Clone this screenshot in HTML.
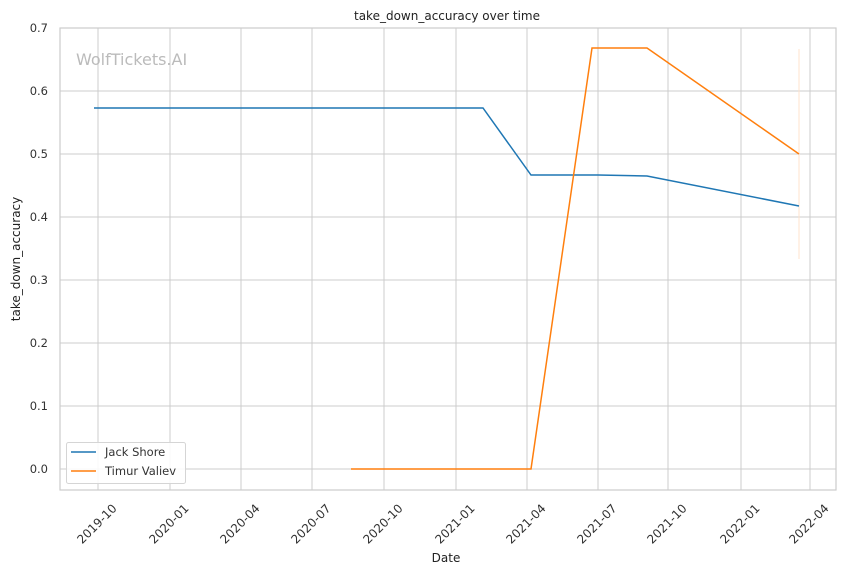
<!DOCTYPE html>
<html><head><meta charset="utf-8"><style>body{margin:0;background:#fff}svg{display:block;font-family:"DejaVu Sans","Liberation Sans",sans-serif}</style></head><body>
<svg width="844" height="575" viewBox="0 0 844 575">
<rect width="844" height="575" fill="#fff"/>
<g stroke="#cccccc" stroke-width="1">
<line x1="98" y1="28" x2="98" y2="490"/><line x1="170" y1="28" x2="170" y2="490"/><line x1="241" y1="28" x2="241" y2="490"/><line x1="312" y1="28" x2="312" y2="490"/><line x1="384" y1="28" x2="384" y2="490"/><line x1="456" y1="28" x2="456" y2="490"/><line x1="527" y1="28" x2="527" y2="490"/><line x1="598" y1="28" x2="598" y2="490"/><line x1="668" y1="28" x2="668" y2="490"/><line x1="741" y1="28" x2="741" y2="490"/><line x1="810" y1="28" x2="810" y2="490"/>
<line x1="60" y1="28" x2="836" y2="28"/><line x1="60" y1="91" x2="836" y2="91"/><line x1="60" y1="154" x2="836" y2="154"/><line x1="60" y1="217" x2="836" y2="217"/><line x1="60" y1="280" x2="836" y2="280"/><line x1="60" y1="343" x2="836" y2="343"/><line x1="60" y1="406" x2="836" y2="406"/><line x1="60" y1="469" x2="836" y2="469"/>
</g>
<rect x="60" y="28" width="776" height="462" fill="none" stroke="#cccccc" stroke-width="1.2"/>
<text x="76" y="65" font-size="16" fill="#bbbbbb">WolfTickets.AI</text>
<line x1="799" y1="49" x2="799" y2="259" stroke="#ffe3cc" stroke-width="1"/>
<polyline fill="none" stroke="#1f77b4" stroke-width="1.5" points="94,108 483,108 531,175 598,175 647,176 799,206"/>
<polyline fill="none" stroke="#ff7f0e" stroke-width="1.5" points="351,469 531,469 592,48 647,48 799,154"/>
<g font-size="11.5" fill="#333" text-anchor="end">
<text x="48" y="32">0.7</text><text x="48" y="95">0.6</text><text x="48" y="158">0.5</text><text x="48" y="221">0.4</text><text x="48" y="284">0.3</text><text x="48" y="347">0.2</text><text x="48" y="410">0.1</text><text x="48" y="473">0.0</text>
</g>
<g font-size="12" fill="#333" text-anchor="middle" dominant-baseline="central">
<text transform="translate(97,524) rotate(-45)">2019-10</text>
<text transform="translate(169,524) rotate(-45)">2020-01</text>
<text transform="translate(240,524) rotate(-45)">2020-04</text>
<text transform="translate(311,524) rotate(-45)">2020-07</text>
<text transform="translate(383,524) rotate(-45)">2020-10</text>
<text transform="translate(455,524) rotate(-45)">2021-01</text>
<text transform="translate(526,524) rotate(-45)">2021-04</text>
<text transform="translate(597,524) rotate(-45)">2021-07</text>
<text transform="translate(667,524) rotate(-45)">2021-10</text>
<text transform="translate(740,524) rotate(-45)">2022-01</text>
<text transform="translate(809,524) rotate(-45)">2022-04</text>
</g>
<text x="447" y="20" font-size="12" fill="#222" text-anchor="middle">take_down_accuracy over time</text>
<text x="446" y="562" font-size="12" fill="#222" text-anchor="middle">Date</text>
<text transform="translate(20,259) rotate(-90)" font-size="12" fill="#222" text-anchor="middle">take_down_accuracy</text>
<rect x="66.5" y="442.5" width="119" height="41" rx="2" fill="#fff" fill-opacity="0.85" stroke="#d5d5d5"/>
<line x1="71" y1="452" x2="96" y2="452" stroke="#1f77b4" stroke-width="1.5"/>
<line x1="71" y1="471" x2="96" y2="471" stroke="#ff7f0e" stroke-width="1.5"/>
<text x="105" y="456" font-size="11.5" fill="#333">Jack Shore</text>
<text x="105" y="475" font-size="11.5" fill="#333">Timur Valiev</text>
</svg>
</body></html>
